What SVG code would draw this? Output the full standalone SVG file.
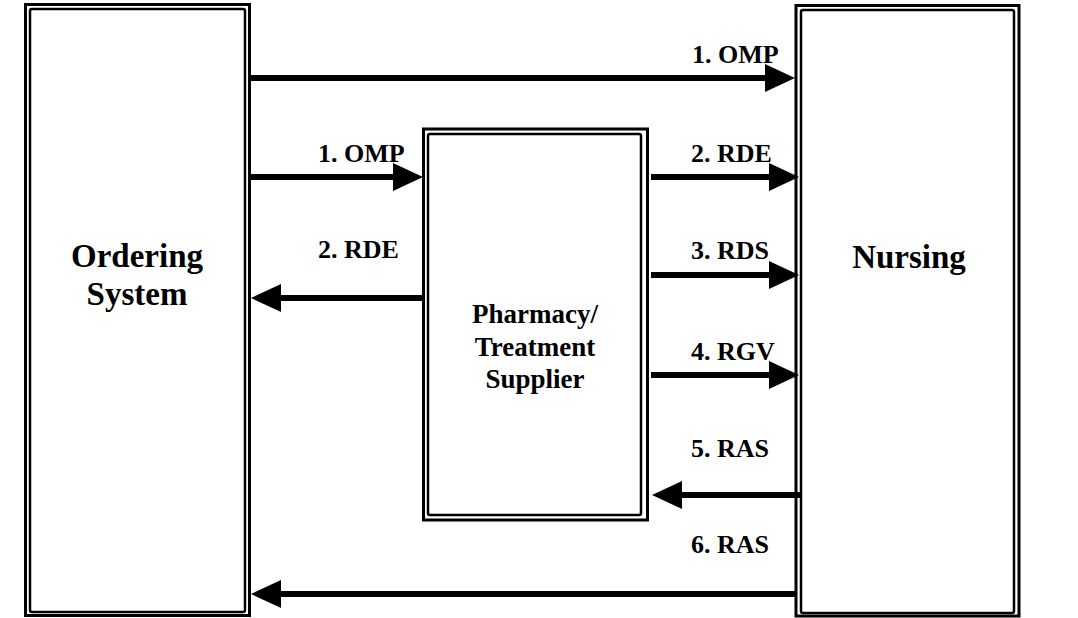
<svg xmlns="http://www.w3.org/2000/svg" width="1078" height="618" viewBox="0 0 1078 618">
<style>
.outer{fill:none;stroke:#000;stroke-width:3}
.inner{fill:none;stroke:#000;stroke-width:2.5}
.title{font-family:"Liberation Serif","Times New Roman",serif;font-weight:bold;font-size:33px;fill:#000;text-anchor:middle}
.sub{font-family:"Liberation Serif","Times New Roman",serif;font-weight:bold;font-size:27px;fill:#000;text-anchor:middle}
.lbl{font-family:"Liberation Serif","Times New Roman",serif;font-weight:bold;font-size:26px;fill:#000}
.arr{stroke:#000;stroke-width:6;fill:none;marker-end:url(#ah)}
</style>
<defs>
<marker id="ah" markerUnits="userSpaceOnUse" viewBox="0 -15 30 30" refX="2" refY="0" markerWidth="30" markerHeight="30" orient="auto">
<path d="M0,-14 L30,0 L0,14 z" fill="#000"/>
</marker>
</defs>
<rect width="1078" height="618" fill="#fff"/>
<g id="ordering">
<rect class="outer" x="25.5" y="4.5" width="224" height="611"/>
<rect class="inner" x="30" y="9" width="215" height="603" rx="2"/>
<text class="title" x="137" y="267">Ordering</text>
<text class="title" x="137" y="305">System</text>
</g>
<g id="nursing">
<rect class="outer" x="796" y="5.5" width="223" height="610.5"/>
<rect class="inner" x="801" y="10" width="213" height="603" rx="2"/>
<text class="title" x="909" y="268">Nursing</text>
</g>
<g id="pharmacy">
<rect class="outer" x="423.5" y="129" width="224" height="391"/>
<rect class="inner" x="428" y="134" width="213" height="381" rx="2"/>
<text class="sub" x="535" y="323">Pharmacy/</text>
<text class="sub" x="535" y="356">Treatment</text>
<text class="sub" x="535" y="388">Supplier</text>
</g>
<g id="connectors">
<line class="arr" x1="250" y1="78" x2="767" y2="78"/>
<line class="arr" x1="250" y1="177" x2="395" y2="177"/>
<line class="arr" x1="422" y1="298" x2="279" y2="298"/>
<line class="arr" x1="651" y1="177" x2="771" y2="177"/>
<line class="arr" x1="651" y1="275" x2="771" y2="275"/>
<line class="arr" x1="651" y1="375" x2="771" y2="375"/>
<line class="arr" x1="800" y1="495" x2="680" y2="495"/>
<line class="arr" x1="795" y1="594" x2="279" y2="594"/>
<text class="lbl" x="692" y="63">1. OMP</text>
<text class="lbl" x="318" y="162">1. OMP</text>
<text class="lbl" x="318" y="258">2. RDE</text>
<text class="lbl" x="691" y="162">2. RDE</text>
<text class="lbl" x="691" y="259">3. RDS</text>
<text class="lbl" x="691" y="360">4. RGV</text>
<text class="lbl" x="691" y="457">5. RAS</text>
<text class="lbl" x="691" y="553">6. RAS</text>
</g>
</svg>
